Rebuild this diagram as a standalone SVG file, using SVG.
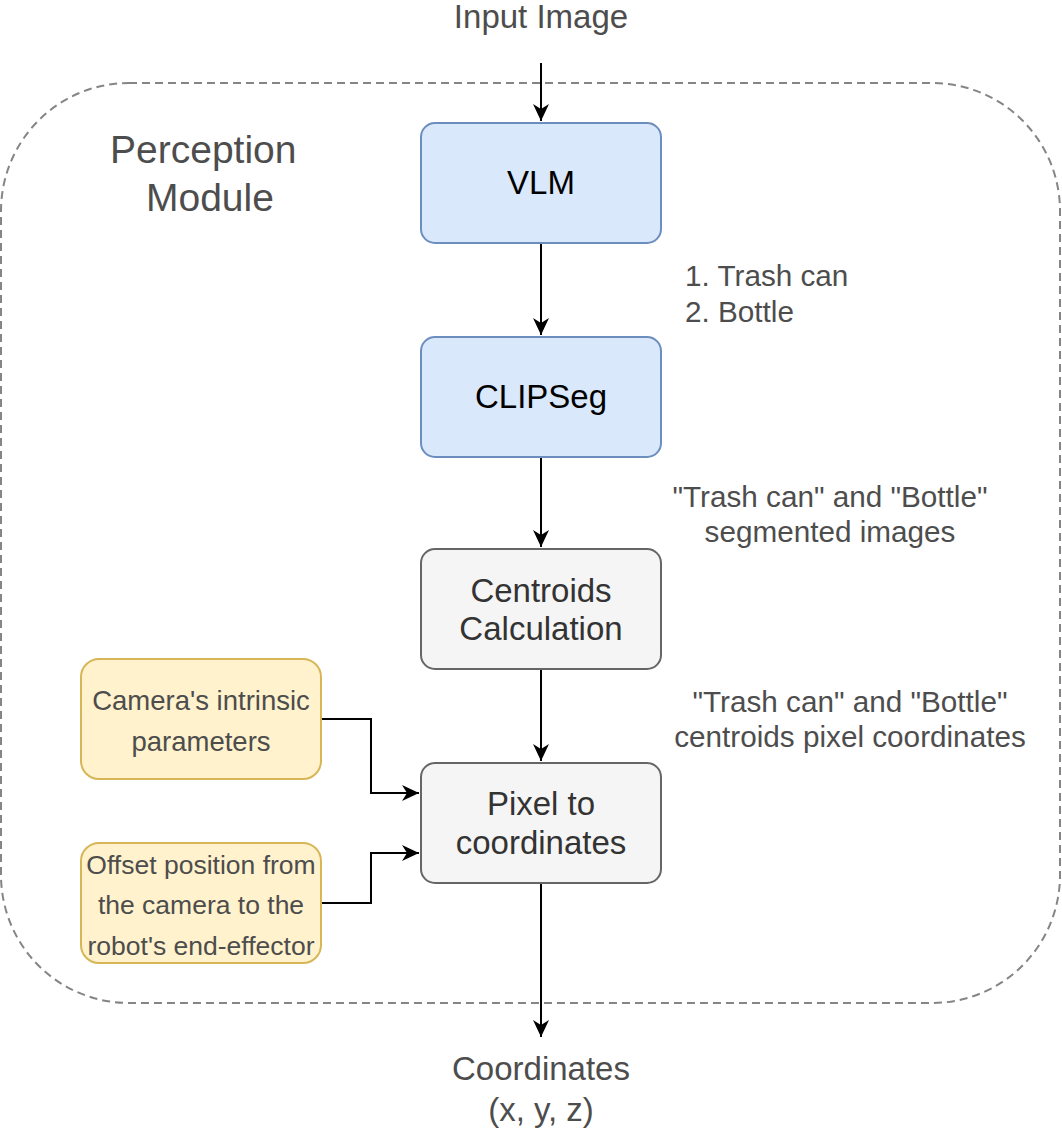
<svg xmlns="http://www.w3.org/2000/svg" width="1062" height="1130" viewBox="0 0 1062 1130">
<style>
text{font-family:"Liberation Sans",Arial,Helvetica,sans-serif;}
.lbl{fill:#4d4d4d;font-size:33px;text-anchor:middle;}
.side{fill:#4d4d4d;font-size:29.7px;}
.mid{text-anchor:middle;}
.blue{fill:#dae8fc;stroke:#6c8ebf;stroke-width:2;}
.gray{fill:#f5f5f5;stroke:#666666;stroke-width:2;}
.yel{fill:#fff2cc;stroke:#d6b656;stroke-width:2;}
.bt{fill:#000000;font-size:33px;text-anchor:middle;}
.gt{fill:#333333;font-size:33px;text-anchor:middle;}
.yt{fill:#4d4d4d;font-size:26.5px;text-anchor:middle;}
.edge{fill:none;stroke:#000000;stroke-width:2;}
</style>
<defs>
<marker id="arr" markerUnits="userSpaceOnUse" markerWidth="20" markerHeight="20" viewBox="-18 -9 20 18" refX="0" refY="0" orient="auto">
<path d="M0,0 L-17,-8 L-12,0 L-17,8 Z" fill="#000000"/>
</marker>
</defs>
<g id="container">
<rect x="1" y="83" width="1059" height="920" rx="128" ry="128" fill="none" stroke="#858585" stroke-width="2" stroke-dasharray="8 5"/>
<text class="side" x="110" y="163" style="font-size:39px">Perception</text>
<text class="side" x="146" y="211" style="font-size:39px">Module</text>
</g>
<g id="edges">
<path class="edge" d="M541,63 L541,121" marker-end="url(#arr)"/>
<path class="edge" d="M541,243 L541,335" marker-end="url(#arr)"/>
<path class="edge" d="M541,457 L541,547" marker-end="url(#arr)"/>
<path class="edge" d="M541,669 L541,761" marker-end="url(#arr)"/>
<path class="edge" d="M541,883 L541,1037" marker-end="url(#arr)"/>
<path class="edge" d="M321,719 L371,719 L371,793 L419,793" marker-end="url(#arr)"/>
<path class="edge" d="M321,903 L371,903 L371,853 L419,853" marker-end="url(#arr)"/>
</g>
<g id="input-label">
<text class="lbl" x="541" y="28">Input Image</text>
</g>
<g id="vlm">
<rect class="blue" x="421" y="123" width="240" height="120" rx="14" ry="14"/>
<text class="bt" x="541" y="194">VLM</text>
</g>
<g id="list-label">
<text class="side" x="685" y="286">1. Trash can</text>
<text class="side" x="685" y="322">2. Bottle</text>
</g>
<g id="clipseg">
<rect class="blue" x="421" y="337" width="240" height="120" rx="14" ry="14"/>
<text class="bt" x="541" y="408">CLIPSeg</text>
</g>
<g id="seg-label">
<text class="side mid" x="830" y="507">"Trash can" and "Bottle"</text>
<text class="side mid" x="830" y="542">segmented images</text>
</g>
<g id="centroids">
<rect class="gray" x="421" y="549" width="240" height="120" rx="14" ry="14"/>
<text class="gt" x="541" y="602">Centroids</text>
<text class="gt" x="541" y="640">Calculation</text>
</g>
<g id="centroid-label">
<text class="side mid" x="850" y="712">"Trash can" and "Bottle"</text>
<text class="side mid" x="850" y="747">centroids pixel coordinates</text>
</g>
<g id="camera">
<rect class="yel" x="81" y="659" width="240" height="120" rx="18" ry="18"/>
<text class="yt" x="201" y="710" style="font-size:27.5px">Camera's intrinsic</text>
<text class="yt" x="201" y="751" style="font-size:27.5px">parameters</text>
</g>
<g id="pixel">
<rect class="gray" x="421" y="763" width="240" height="120" rx="14" ry="14"/>
<text class="gt" x="541" y="815">Pixel to</text>
<text class="gt" x="541" y="854">coordinates</text>
</g>
<g id="offset">
<rect class="yel" x="81" y="843" width="240" height="120" rx="18" ry="18"/>
<text class="yt" x="201" y="874">Offset position from</text>
<text class="yt" x="201" y="914">the camera to the</text>
<text class="yt" x="201" y="955">robot's end-effector</text>
</g>
<g id="output-label">
<text class="lbl" x="541" y="1080">Coordinates</text>
<text class="lbl" x="541" y="1121">(x, y, z)</text>
</g>
</svg>
